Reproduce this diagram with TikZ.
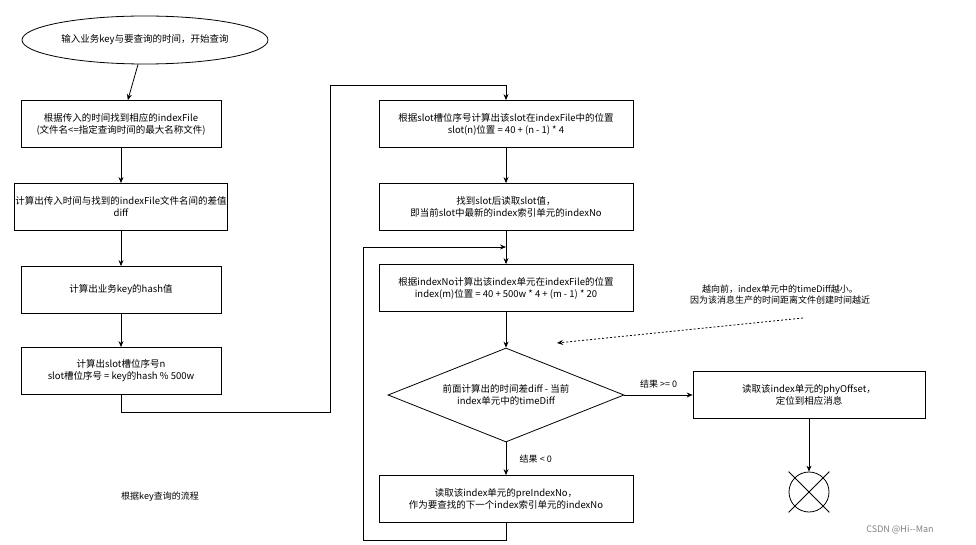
\documentclass[tikz,border=0pt]{standalone}
\usepackage{fontspec}
\setmainfont{Noto Sans CJK SC}
\usetikzlibrary{shapes.geometric,shapes.misc,arrows.meta}
\tikzset{
  box/.style={draw,thick,minimum width=254pt,minimum height=47pt,align=center,inner sep=1pt},
  lbox/.style={box,minimum width=200pt},
  flow/.style={thick,-{Stealth[length=6pt,width=5pt]}},
  lbl/.style={font=\fontsize{9}{11}\selectfont}
}
\begin{document}
\begin{tikzpicture}[x=1pt,y=-1pt,font=\fontsize{9.5}{12}\selectfont]
  \useasboundingbox (0,0) rectangle (976,545);
  \node[draw,thick,ellipse,minimum width=246pt,minimum height=48pt] at (145,40) (start) {输入业务key与要查询的时间，开始查询};
  \node[lbox] at (121,124) (file) {根据传入的时间找到相应的indexFile\\(文件名<=指定查询时间的最大名称文件)};
  \node[lbox] at (121,207) (diff) {计算出传入时间与找到的indexFile文件名间的差值\\diff};
  \node[lbox] at (121,290) (hash) {计算出业务key的hash值};
  \node[lbox] at (121,371) (slot) {计算出slot槽位序号n\\slot槽位序号 = key的hash \% 500w};

  \node[box] at (506,124) (spos) {根据slot槽位序号计算出该slot在indexFile中的位置\\slot(n)位置 = 40 + (n - 1) * 4};
  \node[box] at (506,207) (rslot) {找到slot后读取slot值，\\即当前slot中最新的index索引单元的indexNo};
  \node[box] at (506,288) (ipos) {根据indexNo计算出该index单元在indexFile的位置\\index(m)位置 = 40 + 500w * 4 + (m - 1) * 20};
  \node[draw,thick,diamond,aspect=2.5,minimum width=236pt,minimum height=94pt,inner sep=0pt,align=center] at (506,395) (cmp) {前面计算出的时间差diff - 当前\\index单元中的timeDiff};
  \node[box] at (506,499) (pre) {读取该index单元的preIndexNo，\\作为要查找的下一个index索引单元的indexNo};
  \node[box,minimum width=232pt] at (809,395) (phy) {读取该index单元的phyOffset，\\定位到相应消息};
  \node[draw,thick,circle,minimum size=40pt,cross out] at (809,492) (end) {};
  \node[draw,thick,circle,minimum size=40pt] at (809,492) {};

  \coordinate (c1) at (121,412);
  \coordinate (c2) at (330,412);
  \coordinate (c3) at (330,85);
  \coordinate (c4) at (506,85);
  \coordinate (l1) at (506,540);
  \coordinate (l2) at (363,540);
  \coordinate (l3) at (363,247);
  \coordinate (l4) at (506,247);

  \draw[flow] (start) -- (file);
  \draw[flow] (file) -- (diff);
  \draw[flow] (diff) -- (hash);
  \draw[flow] (hash) -- (slot);
  \draw[flow] (slot.south) -- (c1) -- (c2) -- (c3) -- (c4) -- (spos.north);
  \draw[flow] (spos) -- (rslot);
  \draw[flow] (rslot) -- (ipos);
  \draw[flow] (ipos) -- (cmp);
  \draw[flow] (cmp) -- node[lbl,right=10pt] {结果 < 0} (pre);
  \draw[flow] (cmp) -- node[lbl,above=3pt] {结果 >= 0} (phy);
  \draw[flow] (phy) -- (end);
  \draw[flow] (pre.south) -- (l1) -- (l2) -- (l3) -- (l4);

  \node[lbl,align=center] at (780,295) (note) {越向前，index单元中的timeDiff越小。\\因为该消息生产的时间距离文件创建时间越近};
  \coordinate (n1) at (803,318);
  \coordinate (n2) at (557,343);
  \draw[thick,dash pattern=on 2pt off 2pt,-{Stealth[length=6pt,width=5pt]}] (n1) -- (n2);

  \node[lbl] at (160,497) (title) {根据key查询的流程};
  \node[lbl,text=gray] at (900,530) (mark) {CSDN @Hi{-}{-}Man};
\end{tikzpicture}
\end{document}
